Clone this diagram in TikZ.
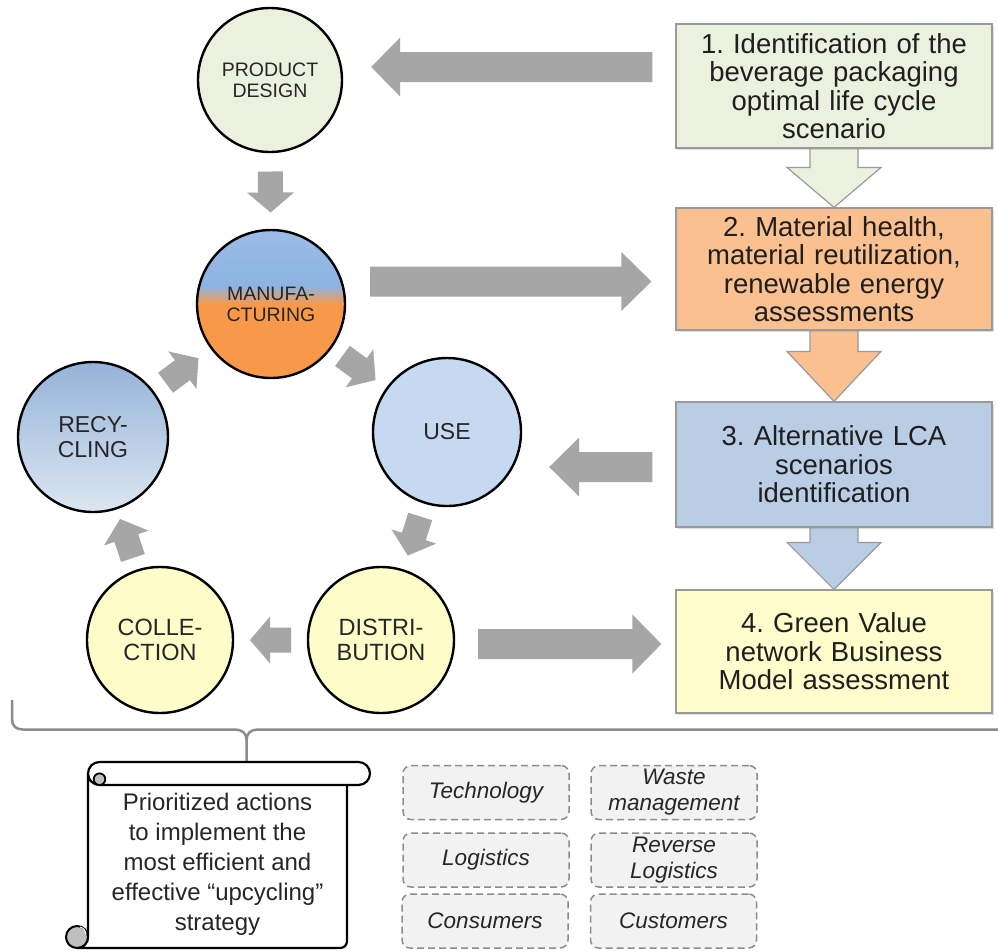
\documentclass[tikz,border=0pt]{standalone}
\usepackage{fontspec}
\setmainfont{Liberation Sans}
\usetikzlibrary{calc,shadows}
\pgfdeclarelayer{background}
\pgfsetlayers{background,main}
\definecolor{pdfill}{HTML}{EBF1DE}
\definecolor{mfblue}{HTML}{8DB3E2}
\definecolor{mfblueB}{HTML}{9BBDE6}
\definecolor{mforange}{HTML}{F8994A}
\definecolor{rctop}{HTML}{95B3D7}
\definecolor{rcbot}{HTML}{DCE6F2}
\definecolor{usefill}{HTML}{C6D9F1}
\definecolor{ylw}{HTML}{FEFCC8}
\definecolor{bAfill}{HTML}{EBF1DE}
\definecolor{bBfill}{HTML}{FAC090}
\definecolor{bCfill}{HTML}{B9CDE5}
\definecolor{bDfill}{HTML}{FEFDCB}
\definecolor{arrowgray}{HTML}{A6A6A6}
\definecolor{boxborder}{HTML}{9A9A9A}
\definecolor{tagfill}{HTML}{F2F2F2}
\definecolor{dashgray}{HTML}{8C8C8C}
\definecolor{bracegray}{HTML}{8C8C8C}
\definecolor{curlgray}{HTML}{BFBFBF}
\definecolor{txtdark}{HTML}{262626}
\pgfdeclareverticalshading{mfshade}{100bp}{color(0bp)=(mforange); color(50bp)=(mforange); color(56bp)=(mfblue); color(75bp)=(mfblueB); color(100bp)=(mfblueB)}
% block arrow from tail #2 to tip #3; #4 head length, #5 shaft half width, #6 head half width
\newcommand\blockarr[6][arrowfill]{%
  \path #2 coordinate (bT) #3 coordinate (bH);
  \coordinate (bB) at ($(bH)!#4!(bT)$);
  \path[#1] ($(bT)!#5!90:(bH)$) -- ($(bB)!#5!90:(bH)$) -- ($(bB)!#6!90:(bH)$) -- (bH)
    -- ($(bB)!#6!-90:(bH)$) -- ($(bB)!#5!-90:(bH)$) -- ($(bT)!#5!-90:(bH)$) -- cycle;}
\newcommand\cyclearr[2]{%
  \coordinate (cM) at ($(#1)!0.5!(#2)$);
  \blockarr{($(cM)!20.5pt!(#1)$)}{($(cM)!20.5pt!(#2)$)}{20pt}{12.5pt}{23.5pt}}
\frenchspacing
\begin{document}
\begin{tikzpicture}[x=1pt,y=-1pt,
  arrowfill/.style={fill=arrowgray},
  bxarr/.style={draw=boxborder,line width=1.2pt},
  circ/.style={circle,draw=black,line width=2.4pt,inner sep=0pt,align=center,text=txtdark},
  bx/.style={draw=boxborder,line width=1.2pt,minimum width=316pt,inner sep=0pt,text width=312pt,
    align=center,text=black!88,font=\fontsize{27.5}{28.5}\selectfont,
    drop shadow={shadow xshift=2pt,shadow yshift=-2pt,opacity=0.25}},
  tag/.style={draw=dashgray,dash pattern=on 7pt off 4pt,line width=1.5pt,rounded corners=8pt,
    fill=tagfill,minimum width=166pt,minimum height=54pt,inner sep=0pt,align=center,
    text=txtdark,font=\itshape\fontsize{22.5}{26}\selectfont},
  bracest/.style={draw=bracegray,line width=2.5pt},
  scrollst/.style={draw=black,line width=2.2pt,fill=white,line join=round}]
\useasboundingbox (0,0) rectangle (998,951);
\begin{pgfonlayer}{background}
\fill[white] (0,0) rectangle (998,951);
\end{pgfonlayer}

% life cycle circles
\node[circ,fill=pdfill,minimum size=144pt,font=\fontsize{19.5}{21}\selectfont] (pd) at (270,80) {PRODUCT\\DESIGN};
\node[circ,shading=mfshade,minimum size=148pt,font=\fontsize{19.5}{21}\selectfont] (mf) at (271,304) {MANUFA-\\CTURING};
\node[circ,top color=rctop,bottom color=rcbot,minimum size=150pt,font=\fontsize{23}{25}\selectfont] (rc) at (93,437) {RECY-\\CLING};
\node[circ,fill=usefill,minimum size=148pt,font=\fontsize{23}{25}\selectfont] (use) at (447,432) {USE};
\node[circ,fill=ylw,minimum size=146pt,font=\fontsize{23.5}{25}\selectfont] (coll) at (160,640) {COLLE-\\CTION};
\node[circ,fill=ylw,minimum size=146pt,font=\fontsize{23.5}{25}\selectfont] (dist) at (381,640) {DISTRI-\\BUTION};

% cycle arrows
\cyclearr{pd}{mf}
\cyclearr{mf}{use}
\cyclearr{use}{dist}
\cyclearr{dist}{coll}
\cyclearr{coll}{rc}
\cyclearr{rc}{mf}

% right boxes
\node[bx,fill=bAfill,minimum height=124pt] (b1) at (834,86) {1. Identification of the\\beverage packaging\\optimal life cycle\\scenario};
\node[bx,fill=bBfill,minimum height=122pt] (b2) at (834,269) {2. Material health,\\material reutilization,\\renewable energy\\assessments};
\node[bx,fill=bCfill,minimum height=125pt] (b3) at (834,464.5) {3. Alternative LCA\\scenarios\\identification};
\node[bx,fill=bDfill,minimum height=123pt] (b4) at (834,651.5) {4. Green Value\\network Business\\Model assessment};

\begin{pgfonlayer}{background}
\blockarr[bxarr,fill=bAfill]{($(b1.south)+(0,-4)$)}{(b2.north)}{40pt}{24pt}{47pt}
\blockarr[bxarr,fill=bBfill]{($(b2.south)+(0,-4)$)}{(b3.north)}{50pt}{24pt}{47pt}
\blockarr[bxarr,fill=bCfill]{($(b3.south)+(0,-4)$)}{(b4.north)}{47pt}{24pt}{47pt}
\end{pgfonlayer}

% big horizontal arrows
\blockarr{($(b1.west)+(-23,-19)$)}{($(pd.east)+(28,-13)$)}{29pt}{15pt}{29.5pt}
\blockarr{($(mf.east)+(24,-22.5)$)}{($(b2.west)+(-24,12.5)$)}{30pt}{15pt}{29.5pt}
\blockarr{($(b3.west)+(-23,2.5)$)}{($(use.east)+(27,35)$)}{30pt}{15pt}{29.5pt}
\blockarr{($(dist.east)+(23,4)$)}{($(b4.west)+(-14,-7.5)$)}{29pt}{15pt}{29.5pt}

% brace
\coordinate (bracetip) at (246.5,762);
\draw[bracest] (12,700) -- (12,719) .. controls (12,726) and (16,729.5) .. (23,729.5) -- (235,729.5)
  .. controls (242,729.5) and (246.5,733) .. (246.5,740) -- (bracetip);
\draw[bracest] (246.5,740) .. controls (246.5,733) and (251,729.5) .. (258,729.5) -- (998,729.5);

% scroll
\path[scrollst] (88,773.5) -- (88,937) .. controls (88,943) and (83,948) .. (77,948) -- (340,948)
  .. controls (344,948) and (347,945) .. (347,941) -- (347,780) -- (88,780) -- cycle;
\path[scrollst,rounded corners=11.5pt] (88,762) rectangle (370,785);
\path[draw=black,line width=1.8pt,fill=curlgray] (99.5,779.2) circle[radius=5.8];
\path[draw=black,line width=2pt,fill=curlgray] (77,937) circle[radius=11];
\draw[white,line width=1pt] (80,927) .. controls (84,928) and (86,931) .. (86,934);
\node[font=\fontsize{24}{30}\selectfont,align=center,text=txtdark] (scroll) at (217.5,864)
  {Prioritized actions\\to implement the\\most efficient and\\effective “upcycling”\\strategy};

% dashed tags
\node[tag] (t1) at (486,792.5) {Technology};
\node[tag] (t2) at (674,792.5) {Waste\\management};
\node[tag] (t3) at (486,860) {Logistics};
\node[tag] (t4) at (674,860) {Reverse\\Logistics};
\node[tag] (t5) at (485,921) {Consumers};
\node[tag] (t6) at (673.5,921) {Customers};
\end{tikzpicture}
\end{document}
